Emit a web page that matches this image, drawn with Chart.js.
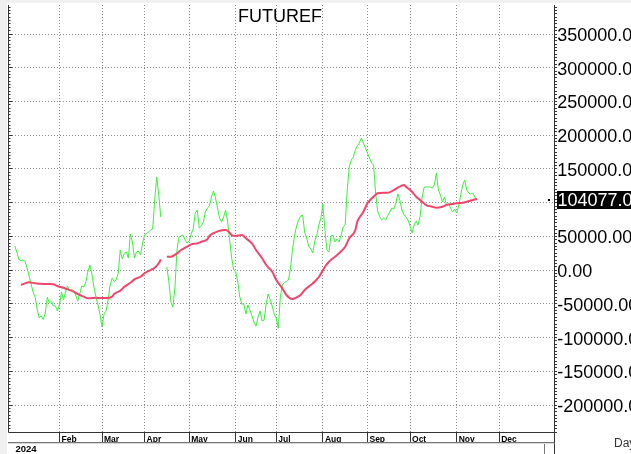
<!DOCTYPE html>
<html>
<head>
<meta charset="utf-8">
<script src="https://cdn.jsdelivr.net/npm/chart.js@4.4.1/dist/chart.umd.min.js"></script>
<style>
html, body { margin: 0; padding: 0; background: #fff; overflow: hidden; }
canvas { display: block; }
</style>
</head>
<body>
<canvas id="myChart" width="631" height="454"></canvas>
<script>
var titleText = 'FUTUREF';
var yearLabel = '2024';
var unitLabel = 'Day';
// month labels and the weekday index (from Jan 1) where each month starts
var monthLabels = ['Feb', 'Mar', 'Apr', 'May', 'Jun', 'Jul', 'Aug', 'Sep', 'Oct', 'Nov', 'Dec'];
var monthStarts = [23, 44, 65, 87, 110, 130, 153, 175, 196, 219, 240];
var yTicks = [-200000, -150000, -100000, -50000, 0, 50000, 100000, 150000, 200000, 250000, 300000, 350000];
var lastValue = 104077;

// daily series, first value is weekday index 1
var greenStart = 1;
var greenValues = [35700, 26100, 15700, 14200, 15000, 13500, 3100, -8700, -20600, -32500,
    -40600, -57700, -71000, -68000, -73200, -63600, -39900, -48800, -46500, -53200,
    -53200, -60600, -51700, -32500, -44300, -32500, -23600, -31000, -28000, -31000,
    -36900, -45800, -35400, -23600, -25100, -17700, -2900, 7600, -5800, -25100,
    -39100, -51700, -65100, -84400, -65100, -60600, -44300, -22100, -11700, -16900,
    -14700, -4300, 29800, 16500, 24600, 26800, 17900, 53500, 41700, 17900,
    26800, 28300, 22400, 40200, 52000, 54300, 56500, 59400, 60900, 103900,
    138000, 111300, 78700, null, null, 4600, -17600, -47300, -54700, -25100,
    29800, 49100, 50600, 52000, 44600, 40200, 43100, 53500, 60900, 84600,
    89100, 62400, 65400, 71300, 86100, 92100, 95000, 108400, 117300, 106900,
    92100, 77200, 71300, 78700, 89100, 71300, 44600, 17900, 100, -2800,
    -17600, -39900, -50300, -50300, -65100, -51700, -59100, -68000, -76900, -82900,
    -69500, -60600, -75500, -74000, -50300, -35400, -44300, -53200, -65100, -71000,
    -86000, -39900, -22100, -18400, -16900, -14700, 3100, 29800, 50600, 65400,
    74300, 80200, 81700, 56500, 47600, 35700, 31300, 25400, 43100, 52000,
    66900, 77200, 98000, 59400, 29800, 26800, 50600, 52000, 41700, 46100,
    41700, 52000, 63900, 66900, 118700, 152800, 163200, 167600, 178000, 184000,
    188400, 195800, 188400, 181000, 173600, 166200, 158800, 155800, 115800, 87600,
    79400, 74300, 77200, 74300, 80900, 86100, 92100, 90600, 99500, 112800,
    103900, 89100, 81700, 78700, 74300, 65400, 55000, 66900, 72800, 66900,
    80200, 108400, 123200, 123200, 123200, 123200, 121700, 126200, 144000, 118700,
    111300, 101000, 108400, 96500, 98000, 92100, 86100, 90600, 84600, 95000,
    111300, 126200, 133600, 118700, 114100, 112800, 114100, 108400, 104077];

// moving average, read at these weekday indexes
var maDays = [4, 6, 8, 11, 13, 17, 20, 22, 25, 27, 30, 32, 35, 37, 39, 41, 44, 46, 49, 50,
    53, 55, 58, 60, 63, 65, 68, 70, 72, 73, 75, 76, 78, 81, 83, 86, 88, 91, 93, 96,
    97, 100, 102, 105, 106, 108, 110, 113, 115, 118, 120, 123, 125, 128, 130, 133, 135, 138, 139, 142,
    144, 147, 149, 151, 154, 156, 159, 161, 164, 166, 169, 170, 173, 175, 178, 180, 183, 185, 188, 190,
    193, 194, 197, 199, 202, 204, 207, 209, 212, 214, 217, 219, 222, 224, 227, 229];
var maValues = [-22100, -19600, -18100, -19600, -20200, -20600, -21100, -23600, -26100, -28500,
    -32000, -35400, -39400, -41800, -41400, -40900, -41400, -41400, -39400, -35400,
    -30500, -24600, -18700, -13600, -9800, -4700, 100, 3600, 10100, 16000,
    null, 19900, 19900, 24900, 29800, 34700, 38200, 39700, 42100, 45700,
    50600, 56000, 58400, 59400, 58400, 52000, 50600, 52000, 47100, 39700,
    29800, 17500, 7600, -2400, -14700, -27000, -36900, -42800, -41800, -36900,
    -29500, -22100, -16900, -10200, 5000, 12500, 19900, 24900, 34700, 47100,
    59400, 71800, 86600, 99000, 108800, 113900, 114700, 114700, 118700, 122200,
    126200, 123600, 116200, 108800, 101400, 96500, 94000, 92500, 94000, 96500,
    98000, 99000, 99900, 101400, 103900, 105800];

var FONT = '"Liberation Sans", Arial, sans-serif';

var greenData = greenValues.map(function (v, i) { return { x: i + greenStart, y: v }; });
var maData = maDays.map(function (d, i) { return { x: d, y: maValues[i] }; });

function px(v) { return Math.round(v - 0.5) + 0.5; }

var decor = {
    id: 'decor',
    beforeDraw: function (chart) {
        var c = chart.ctx;
        c.save();
        c.fillStyle = '#ffffff';
        c.fillRect(0, 0, chart.width, chart.height);
        c.fillStyle = '#f0f0f0';
        c.fillRect(0, 0, chart.width, 3);
        c.fillRect(0, 0, 7, chart.height);
        c.restore();
    },
    afterDraw: function (chart) {
        var c = chart.ctx;
        var a = chart.chartArea;
        var xs = chart.scales.x;
        var ys = chart.scales.y;
        c.save();
        c.strokeStyle = '#333333';
        c.lineWidth = 1;

        // left axis with small ticks
        c.beginPath();
        c.moveTo(8.5, a.top);
        c.lineTo(8.5, a.bottom);
        for (var v = -240000; v <= 390000; v += 5000) {
            var y = px(ys.getPixelForValue(v));
            var len = (v % 50000 === 0) ? 4 : 2;
            c.moveTo(8.5, y);
            c.lineTo(8.5 + len, y);
            c.moveTo(px(a.right), y);
            c.lineTo(px(a.right) + 2.5, y);
        }
        c.stroke();

        // date label row
        c.beginPath();
        monthStarts.forEach(function (d) {
            var x = px(xs.getPixelForValue(d));
            c.moveTo(x, a.bottom);
            c.lineTo(x, 442.5);
        });
        c.moveTo(px(a.right), a.bottom);
        c.lineTo(px(a.right), chart.height);
        c.stroke();

        c.strokeStyle = '#777777';
        c.beginPath();
        c.moveTo(8, 442.5);
        c.lineTo(a.right, 442.5);
        c.moveTo(544.5, 443);
        c.lineTo(544.5, chart.height);
        c.stroke();
        c.strokeStyle = '#d8d8d8';
        c.beginPath();
        c.moveTo(8, 443.5);
        c.lineTo(a.right, 443.5);
        c.stroke();

        c.fillStyle = '#000000';
        c.textBaseline = 'alphabetic';
        c.font = 'bold 9.5px ' + FONT;
        c.fillText(yearLabel, 15.5, 452);
        c.fillStyle = '#333333';
        c.font = '12px ' + FONT;
        c.fillText(unitLabel, 614, 447);

        // title
        c.fillStyle = '#000000';
        c.font = '18px ' + FONT;
        c.fillText(titleText, 238, 21.7);

        // last value box
        var yl = ys.getPixelForValue(lastValue);
        c.fillStyle = '#000000';
        c.fillRect(557, Math.round(yl - 9), 80, 18);
        c.fillRect(548, Math.round(yl) - 1, 2, 2);
        c.fillStyle = '#ffffff';
        c.textBaseline = 'middle';
        c.fillText(lastValue.toFixed(2), 557.5, yl + 1.5);
        c.restore();
    }
};

var config = {
    type: 'line',
    data: {
        datasets: [
            {
                label: titleText,
                data: greenData,
                borderColor: '#3cf03c',
                borderWidth: 1,
                pointRadius: 0,
                spanGaps: false,
                order: 1
            },
            {
                label: 'MA',
                data: maData,
                borderColor: '#f2456a',
                borderWidth: 2,
                pointRadius: 0,
                spanGaps: false,
                cubicInterpolationMode: 'monotone',
                order: 0
            }
        ]
    },
    options: {
        responsive: false,
        animation: false,
        events: [],
        layout: { padding: { left: 9, top: 5, right: 0, bottom: 0 } },
        plugins: {
            legend: { display: false },
            title: { display: false },
            tooltip: { enabled: false }
        },
        scales: {
            x: {
                type: 'linear',
                position: 'bottom',
                min: -1.9,
                max: 267.2,
                afterBuildTicks: function (s) {
                    s.ticks = monthStarts.map(function (d) { return { value: d }; });
                },
                afterFit: function (s) {
                    s.height = 21.7;
                    s.paddingLeft = 0;
                    s.paddingRight = 0;
                },
                ticks: {
                    autoSkip: false,
                    maxRotation: 0,
                    align: 'start',
                    labelOffset: 2,
                    padding: 2,
                    color: '#000000',
                    font: { family: FONT, size: 8.5, weight: 'bold' },
                    callback: function (value, index) {
                        return monthLabels[index];
                    }
                },
                grid: { color: '#8c8c8c', drawTicks: false, lineWidth: 1 },
                border: { display: true, color: '#333333', width: 1, dash: [1, 2] }
            },
            y: {
                type: 'linear',
                position: 'right',
                min: -240400,
                max: 393000,
                afterBuildTicks: function (s) {
                    s.ticks = yTicks.map(function (v) { return { value: v }; });
                },
                afterFit: function (s) {
                    s.width = 76.7;
                    s.paddingTop = 0;
                    s.paddingBottom = 0;
                },
                ticks: {
                    padding: 3,
                    labelOffset: 2,
                    color: '#000000',
                    font: { family: FONT, size: 18 },
                    callback: function (value) {
                        if (Math.abs(value - lastValue) < 10000) return '';
                        return value.toFixed(2);
                    }
                },
                grid: { color: '#8c8c8c', drawTicks: false, lineWidth: 1 },
                border: { display: true, color: '#333333', width: 1, dash: [1, 2] }
            }
        }
    },
    plugins: [decor]
};

var ctx = document.getElementById('myChart').getContext('2d');
var myChart = new Chart(ctx, config);
</script>
</body>
</html>
